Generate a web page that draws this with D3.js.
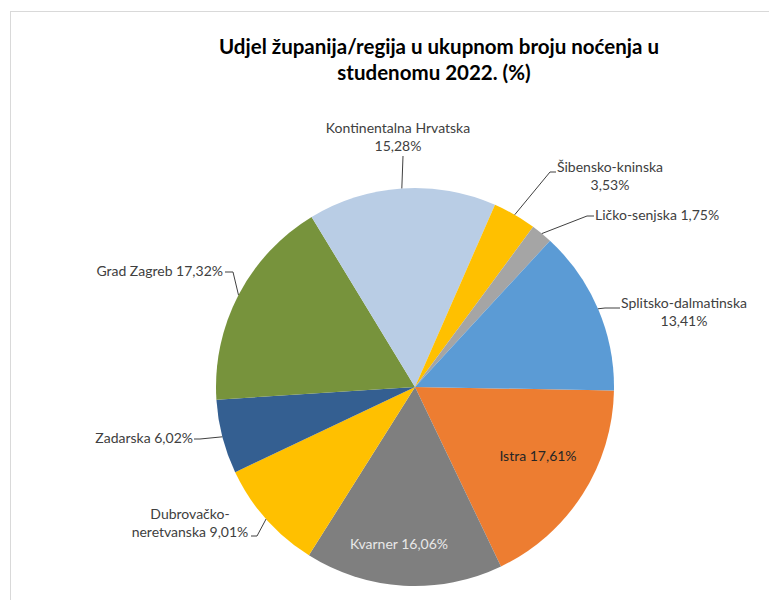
<!DOCTYPE html>
<html>
<head>
<meta charset="utf-8">
<script src="https://cdn.jsdelivr.net/npm/d3@7"></script>
<style>
  body { margin: 0; background: #fff; }
  svg { display: block; font-family: Lato, "Open Sans", sans-serif; }
</style>
</head>
<body>
<div id="chart"></div>
<script>
// data, clockwise from the start angle
var regions = ['Istra', 'Kvarner', 'Dubrovačko-neretvanska', 'Zadarska', 'Grad Zagreb',
               'Kontinentalna Hrvatska', 'Šibensko-kninska', 'Ličko-senjska', 'Splitsko-dalmatinska'];
var shares = [17.61, 16.06, 9.01, 6.02, 17.32, 15.28, 3.53, 1.75, 13.41];
var labelLines = [
  ['Istra 17,61%'],
  ['Kvarner 16,06%'],
  ['Dubrovačko-', 'neretvanska 9,01%'],
  ['Zadarska 6,02%'],
  ['Grad Zagreb 17,32%'],
  ['Kontinentalna Hrvatska', '15,28%'],
  ['Šibensko-kninska', '3,53%'],
  ['Ličko-senjska 1,75%'],
  ['Splitsko-dalmatinska', '13,41%']
];
var colors = ['#ED7D31', '#7F7F7F', '#FFC000', '#345F91', '#77933C',
              '#B9CDE5', '#FFC000', '#A5A5A5', '#5B9BD5'];

var width = 769, height = 600;
var cx = 415, cy = 387, radius = 199;
var startDeg = 91;

// label layout: text anchor point, alignment, leader elbow and end (inside labels have none)
var layout = [
  { x: 538, y: 461, anchor: 'middle', fill: '#262626' },
  { x: 399, y: 549, anchor: 'middle', fill: '#E8E8E8' },
  { x: 190, y: 519, anchor: 'middle', elbow: [257, 536], end: [251, 536] },
  { x: 193, y: 443, anchor: 'end', elbow: [200, 439], end: [194, 439] },
  { x: 223, y: 276, anchor: 'end', elbow: [233, 272], end: [225, 272] },
  { x: 398, y: 133, anchor: 'middle', elbow: [403, 156], end: [403, 156] },
  { x: 610, y: 172, anchor: 'middle', elbow: [550, 172], end: [556, 172] },
  { x: 595, y: 220, anchor: 'start', elbow: [587, 216], end: [594, 216] },
  { x: 684, y: 308, anchor: 'middle', elbow: [605, 308], end: [620, 308] }
];

var svg = d3.select('#chart').append('svg')
  .attr('width', width)
  .attr('height', height);

// chart area border
svg.append('rect')
  .attr('x', 10.5).attr('y', 11.5)
  .attr('width', 800).attr('height', 700)
  .attr('fill', 'none')
  .attr('stroke', '#D9D9D9');

svg.append('text')
  .attr('x', 439).attr('y', 54)
  .attr('text-anchor', 'middle')
  .attr('font-weight', 'bold')
  .attr('font-size', '20.5px')
  .attr('fill', '#000')
  .text('Udjel županija/regija u ukupnom broju noćenja u');
svg.append('text')
  .attr('x', 434).attr('y', 80)
  .attr('text-anchor', 'middle')
  .attr('font-weight', 'bold')
  .attr('font-size', '20.5px')
  .attr('fill', '#000')
  .text('studenomu 2022. (%)');

var pie = d3.pie()
  .sort(null)
  .value(function(d){ return d; })
  .startAngle(startDeg * Math.PI / 180)
  .endAngle((startDeg + 360) * Math.PI / 180);

var arcs = pie(shares);
var arc = d3.arc().innerRadius(0).outerRadius(radius);

var g = svg.append('g').attr('transform', 'translate(' + cx + ',' + cy + ')');

g.selectAll('path')
  .data(arcs)
  .enter()
  .append('path')
  .attr('d', arc)
  .attr('fill', function(d, i){ return colors[i]; });

// leader lines
arcs.forEach(function(d, i){
  var L = layout[i];
  if (!L.elbow) return;
  var mid = (d.startAngle + d.endAngle) / 2;
  var px = cx + radius * Math.sin(mid);
  var py = cy - radius * Math.cos(mid);
  svg.append('polyline')
    .attr('points', [[px, py], L.elbow, L.end].map(function(p){ return p.join(','); }).join(' '))
    .attr('fill', 'none')
    .attr('stroke', '#404040')
    .attr('stroke-width', 1);
});

// labels
arcs.forEach(function(d, i){
  var L = layout[i];
  var t = svg.append('text')
    .attr('x', L.x).attr('y', L.y)
    .attr('text-anchor', L.anchor)
    .attr('font-size', '14px')
    .attr('fill', L.fill || '#404040');
  labelLines[i].forEach(function(line, k){
    t.append('tspan')
      .attr('x', L.x)
      .attr('dy', k === 0 ? 0 : 17.5)
      .text(line);
  });
});
</script>
</body>
</html>
